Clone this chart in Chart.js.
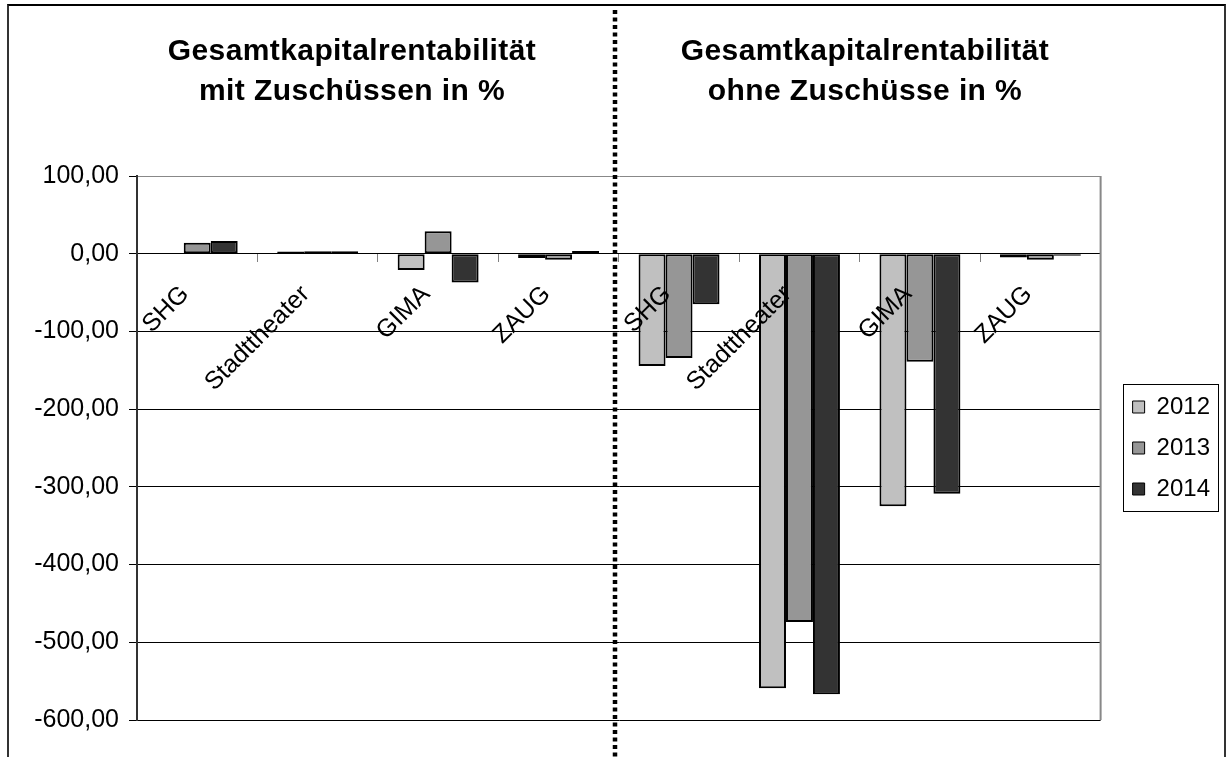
<!DOCTYPE html>
<html>
<head>
<meta charset="utf-8">
<script src="https://cdn.jsdelivr.net/npm/chart.js@4.4.1/dist/chart.umd.min.js"></script>
<style>
  html, body { margin: 0; padding: 0; background: #fff; overflow: hidden; }
  #wrap { position: relative; width: 1226px; height: 757px; }
  #frame { position: absolute; left: 7px; top: 4px; width: 1219px; height: 800px; box-sizing: border-box;
           border-top: 2px solid #000; border-left: 2px solid #333; border-right: 2px solid #333; pointer-events: none; }
  .title { position: absolute; width: 500px; text-align: center; font: bold 30px "Liberation Sans", Arial, sans-serif;
           line-height: 40px; letter-spacing: 0.4px; color: #000; }
  canvas { position: absolute; left: 0; top: 0; }
</style>
</head>
<body>
<div id="wrap">
  <canvas id="chart" width="1226" height="757"></canvas>
  <div class="title" style="left:102px; top:30px;">Gesamtkapitalrentabilität<br>mit Zuschüssen in %</div>
  <div class="title" style="left:615px; top:30px;">Gesamtkapitalrentabilität<br>ohne Zuschüsse in %</div>
  <div id="frame"></div>
</div>
<script>
// left half: mit Zuschüssen, right half: ohne Zuschüsse
const categories = ['SHG', 'Stadttheater', 'GIMA', 'ZAUG', 'SHG', 'Stadttheater', 'GIMA', 'ZAUG'];
const years = ['2012', '2013', '2014'];
const values2012 = [0, 3.0, -21, -5.6, -144.6, -559, -325, -5];
const values2013 = [14, 3.2, 29, -7.8, -134.3, -474, -139, -7.8];
const values2014 = [16.5, 3.1, -37, 3.4, -65, -567, -309, -2.5];
const yTicks = [100, 0, -100, -200, -300, -400, -500, -600];

const fills = ['#c0c0c0', '#969696', '#333333'];
const FONT = '"Liberation Sans", Arial, sans-serif';

const PLOT_LEFT = 137, PLOT_RIGHT = 1101, PLOT_TOP = 176, PLOT_BOTTOM = 720;

const decor = {
  id: 'decor',
  beforeDraw(chart) {
    // legend sits a bit away from the plot
    const lg = chart.legend;
    if (lg && !lg._shifted) { lg.left += 15; lg.right += 15; lg._shifted = true; }
  },
  afterDraw(chart) {
    const { ctx, chartArea: a } = chart;
    ctx.save();
    // plot area border (right side)
    ctx.strokeStyle = '#888';
    ctx.lineWidth = 2;
    ctx.beginPath();
    ctx.moveTo(a.right, a.top);
    ctx.lineTo(a.right, a.bottom);
    ctx.stroke();
    // legend frame
    const hb = chart.legend.legendHitBoxes;
    if (hb && hb.length) {
      const sq = chart.legend.left + chart.options.plugins.legend.labels.padding;
      const top = Math.min(...hb.map(h => h.top));
      const bottom = Math.max(...hb.map(h => h.top + h.height));
      ctx.strokeStyle = '#000';
      ctx.lineWidth = 1;
      ctx.strokeRect(Math.round(sq - 10) + 0.5, Math.round(top - 11) + 0.5, 95, Math.round(bottom - top + 21));
    }
    // dotted divider between the two halves
    ctx.strokeStyle = '#000';
    ctx.lineWidth = 4.5;
    ctx.setLineDash([4, 3.5]);
    ctx.beginPath();
    ctx.moveTo(615, 10);
    ctx.lineTo(615, 757);
    ctx.stroke();
    ctx.restore();
  }
};

const chart = new Chart(document.getElementById('chart'), {
  type: 'bar',
  data: {
    labels: categories,
    datasets: [values2012, values2013, values2014].map((vals, i) => ({
      label: years[i],
      data: vals,
      backgroundColor: fills[i],
      borderColor: '#000',
      borderWidth: 2,
      borderSkipped: false,
      categoryPercentage: 0.672,
      barPercentage: 1.0
    }))
  },
  options: {
    responsive: false,
    animation: false,
    layout: { padding: { left: 0, top: PLOT_TOP, right: 21, bottom: 757 - PLOT_BOTTOM } },
    plugins: {
      title: { display: false },
      tooltip: { enabled: false },
      legend: {
        position: 'right',
        align: 'center',
        labels: {
          boxWidth: 12,
          boxHeight: 12,
          padding: 17,
          color: '#000',
          font: { family: FONT, size: 24 },
          generateLabels(chart) {
            return chart.data.datasets.map((ds, i) => ({
              text: ds.label, fillStyle: ds.backgroundColor, strokeStyle: '#000',
              lineWidth: 1, hidden: false, datasetIndex: i, fontColor: '#000'
            }));
          }
        }
      }
    },
    scales: {
      x: {
        position: { y: 0 },
        afterFit(scale) { scale.height = 0; },
        grid: { drawOnChartArea: false, drawTicks: true, tickLength: 8, tickColor: '#808080', offset: true },
        border: { display: true, color: '#000', width: 1 },
        ticks: {
          z: 1,
          autoSkip: false, maxRotation: 45, minRotation: 45, padding: 18, labelOffset: -12,
          color: '#000', font: { family: FONT, size: 25 }
        }
      },
      y: {
        min: -600,
        max: 100,
        afterFit(scale) { scale.width = PLOT_LEFT; },
        afterBuildTicks(scale) { scale.ticks = yTicks.map(v => ({ value: v })); },
        grid: {
          color: ctx => (ctx.tick && ctx.tick.value === 100) ? '#888' : '#000',
          lineWidth: 1,
          drawTicks: true,
          tickLength: 8,
          tickColor: '#000'
        },
        border: { display: true, color: '#333', width: 2 },
        ticks: {
          padding: 10,
          color: '#000',
          font: { family: FONT, size: 25 },
          callback: v => v.toFixed(2).replace('.', ',')
        }
      }
    }
  },
  plugins: [decor]
});

// keep the plot's right edge where the reference has it
const diff = chart.chartArea.right - PLOT_RIGHT;
if (Math.abs(diff) > 0.5) {
  chart.options.layout.padding.right += diff;
  chart.legend._shifted = false;
  chart.update();
}
</script>
</body>
</html>
